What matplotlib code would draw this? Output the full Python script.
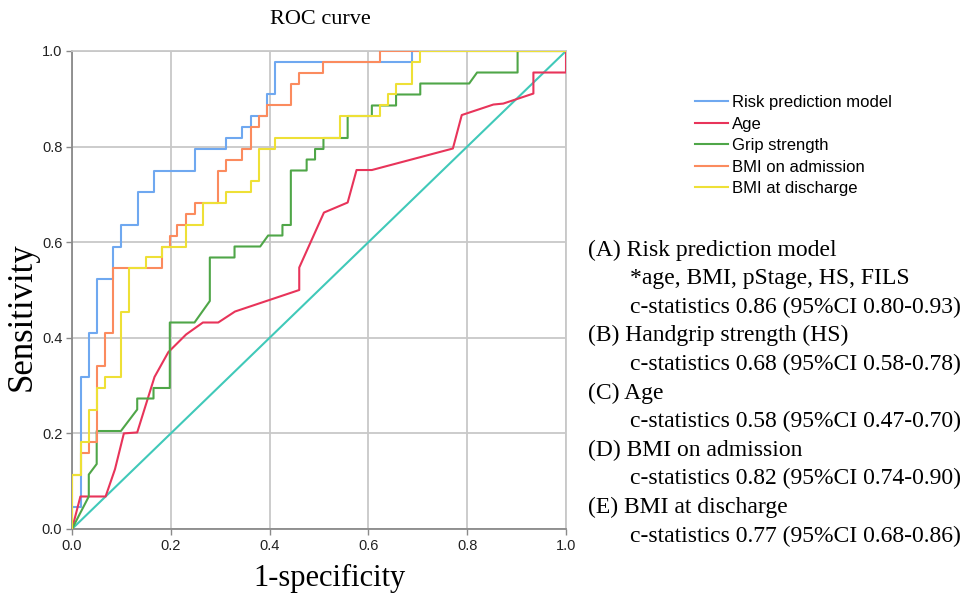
import matplotlib
matplotlib.use("Agg")
import matplotlib.pyplot as plt

# ---- data (ROC vertices) ----
risk_fpr = [0, 0, 0.0175, 0.0175, 0.034, 0.034, 0.051, 0.051, 0.082, 0.082, 0.099, 0.099, 0.133, 0.133,
            0.166, 0.166, 0.248, 0.248, 0.312, 0.312, 0.345, 0.345, 0.362, 0.362, 0.394, 0.394,
            0.411, 0.411, 0.688, 0.688, 1.0]
risk_tpr = [0, 0.045, 0.045, 0.318, 0.318, 0.409, 0.409, 0.523, 0.523, 0.591, 0.591, 0.636, 0.636, 0.705,
            0.705, 0.75, 0.75, 0.795, 0.795, 0.818, 0.818, 0.841, 0.841, 0.864, 0.864, 0.909,
            0.909, 0.977, 0.977, 1.0, 1.0]

age_fpr = [0, 0.017, 0.068, 0.087, 0.105, 0.132, 0.167, 0.195, 0.231, 0.265, 0.296, 0.330, 0.460, 0.460,
           0.510, 0.558, 0.576, 0.607, 0.771, 0.789, 0.853, 0.873, 0.934, 0.934, 1.0, 1.0]
age_tpr = [0, 0.068, 0.068, 0.125, 0.200, 0.202, 0.318, 0.370, 0.407, 0.432, 0.432, 0.455, 0.500, 0.547,
           0.662, 0.683, 0.751, 0.751, 0.796, 0.866, 0.888, 0.890, 0.911, 0.955, 0.955, 1.0]

grip_fpr = [0, 0.034, 0.034, 0.05, 0.05, 0.099, 0.132, 0.132, 0.165, 0.165, 0.198, 0.198, 0.248, 0.279,
            0.279, 0.329, 0.329, 0.381, 0.397, 0.426, 0.426, 0.443, 0.443, 0.475, 0.475, 0.492, 0.492,
            0.509, 0.509, 0.558, 0.558, 0.607, 0.607, 0.656, 0.656, 0.705, 0.705, 0.804, 0.820,
            0.902, 0.902, 1.0]
grip_tpr = [0, 0.068, 0.114, 0.136, 0.205, 0.205, 0.25, 0.273, 0.273, 0.295, 0.295, 0.432, 0.432, 0.477,
            0.568, 0.568, 0.591, 0.591, 0.614, 0.614, 0.636, 0.636, 0.75, 0.75, 0.773, 0.773, 0.795,
            0.795, 0.818, 0.818, 0.864, 0.864, 0.886, 0.886, 0.909, 0.909, 0.932, 0.932, 0.955,
            0.955, 1.0, 1.0]

bmi_adm_fpr = [0, 0, 0.018, 0.018, 0.034, 0.034, 0.05, 0.05, 0.067, 0.067, 0.084, 0.084, 0.182, 0.182,
               0.198, 0.198, 0.213, 0.213, 0.231, 0.231, 0.248, 0.248, 0.295, 0.295, 0.312, 0.312,
               0.345, 0.345, 0.362, 0.362, 0.379, 0.379, 0.395, 0.395, 0.444, 0.444, 0.460, 0.460,
               0.509, 0.509, 0.623, 0.623, 1.0]
bmi_adm_tpr = [0, 0.114, 0.114, 0.159, 0.159, 0.182, 0.182, 0.341, 0.341, 0.409, 0.409, 0.545, 0.545, 0.591,
               0.591, 0.614, 0.614, 0.636, 0.636, 0.659, 0.659, 0.682, 0.682, 0.75, 0.75, 0.773,
               0.773, 0.795, 0.795, 0.841, 0.841, 0.864, 0.864, 0.886, 0.886, 0.932, 0.932, 0.955,
               0.955, 0.977, 0.977, 1.0, 1.0]

bmi_dis_fpr = [0, 0, 0.018, 0.018, 0.034, 0.034, 0.05, 0.05, 0.067, 0.067, 0.099, 0.099, 0.116, 0.116,
               0.150, 0.150, 0.182, 0.182, 0.231, 0.231, 0.265, 0.265, 0.311, 0.311, 0.362, 0.362,
               0.379, 0.379, 0.411, 0.411, 0.543, 0.543, 0.623, 0.623, 0.640, 0.640, 0.656, 0.656,
               0.688, 0.688, 0.705, 0.705, 1.0]
bmi_dis_tpr = [0, 0.114, 0.114, 0.182, 0.182, 0.25, 0.25, 0.295, 0.295, 0.318, 0.318, 0.455, 0.455, 0.545,
               0.545, 0.568, 0.568, 0.591, 0.591, 0.636, 0.636, 0.682, 0.682, 0.705, 0.705, 0.727,
               0.727, 0.795, 0.795, 0.818, 0.818, 0.864, 0.864, 0.886, 0.886, 0.909, 0.909, 0.932,
               0.932, 0.977, 0.977, 1.0, 1.0]

ref_line = [0, 1]

series_labels = ["Risk prediction model", "Age", "Grip strength", "BMI on admission", "BMI at discharge"]
tick_vals = [0.0, 0.2, 0.4, 0.6, 0.8, 1.0]

annot_lines = [
    ("(A) Risk prediction model", 0),
    ("*age, BMI, pStage, HS, FILS", 1),
    ("c-statistics 0.86 (95%CI 0.80-0.93)", 1),
    ("(B) Handgrip strength (HS)", 0),
    ("c-statistics 0.68 (95%CI 0.58-0.78)", 1),
    ("(C) Age", 0),
    ("c-statistics 0.58 (95%CI 0.47-0.70)", 1),
    ("(D) BMI on admission", 0),
    ("c-statistics 0.82 (95%CI 0.74-0.90)", 1),
    ("(E) BMI at discharge", 0),
    ("c-statistics 0.77 (95%CI 0.68-0.86)", 1),
]

# ---- figure ----
W, H = 971, 598
fig = plt.figure(figsize=(W / 100, H / 100), dpi=100)
ax = fig.add_axes([72 / W, 1 - 529 / H, (566 - 72) / W, (529 - 51) / H])

colors = ["#6fa8f0", "#e8345a", "#4fa648", "#fb8b5e", "#eee036"]
curves = [(risk_fpr, risk_tpr), (age_fpr, age_tpr), (grip_fpr, grip_tpr),
          (bmi_adm_fpr, bmi_adm_tpr), (bmi_dis_fpr, bmi_dis_tpr)]

ax.plot(ref_line, ref_line, color="#40c9b9", lw=1.5, zorder=2)
handles = []
for (fx, ty), c, lab in zip(curves, colors, series_labels):
    h, = ax.plot(fx, ty, color=c, lw=1.5, label=lab, zorder=3)
    handles.append(h)

ax.set_xlim(0, 1)
ax.set_ylim(0, 1)
ax.set_xticks(tick_vals)
ax.set_yticks(tick_vals)
ax.set_xticklabels([f"{v:.1f}" for v in tick_vals])
ax.set_yticklabels([f"{v:.1f}" for v in tick_vals])
ax.grid(True, color="#c8c8c8", lw=1.3, zorder=0)
ax.set_axisbelow(True)
for s in ["top", "right"]:
    ax.spines[s].set_color("#c8c8c8")
    ax.spines[s].set_linewidth(1.3)
for s in ["left", "bottom"]:
    ax.spines[s].set_color("#8a8a8a")
    ax.spines[s].set_linewidth(1.3)
ax.tick_params(axis="both", colors="#8a8a8a", labelcolor="#222222", length=4, width=1,
               labelsize=10.5, pad=3)
for lab in ax.get_xticklabels() + ax.get_yticklabels():
    lab.set_family("Liberation Sans")

fig.text(320 / W, 1 - 20 / H, "ROC curve", family="Liberation Serif", fontsize=16,
         ha="center", va="center")
fig.text(22 / W, 1 - 317 / H, "Sensitivity", family="Liberation Serif", fontsize=25,
         ha="center", va="center", rotation=90)
fig.text(329 / W, 1 - 578 / H, "1-specificity", family="Liberation Serif", fontsize=22,
         ha="center", va="center")

leg = fig.legend(handles=handles, labels=series_labels, loc="upper left",
                 bbox_to_anchor=(695 / W, 1 - 95 / H), frameon=False,
                 prop={"family": "Liberation Sans", "size": 12},
                 handlelength=1.95, handletextpad=0.25, labelspacing=0.39, borderaxespad=0,
                 borderpad=0)

y0 = 250
dy = 28.6
for i, (txt, ind) in enumerate(annot_lines):
    x = 588 if ind == 0 else 630
    fig.text(x / W, 1 - (y0 + i * dy) / H, txt, family="Liberation Serif", fontsize=17,
             va="center", ha="left")

fig.savefig("out.png", dpi=100)
